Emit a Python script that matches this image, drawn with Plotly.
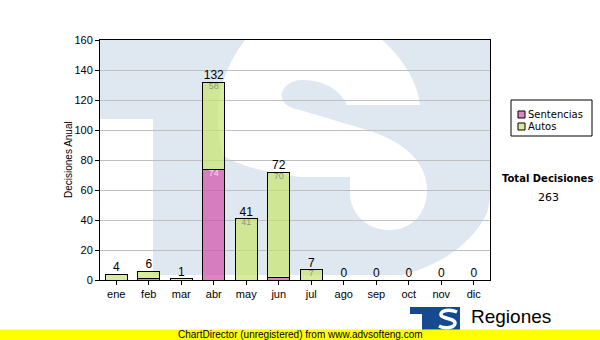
import plotly.graph_objects as go

# ---- data ----
months = ["ene", "feb", "mar", "abr", "may", "jun", "jul", "ago", "sep", "oct", "nov", "dic"]
sentencias = [0, 1, 0, 74, 0, 2, 0, 0, 0, 0, 0, 0]
autos = [4, 5, 1, 58, 41, 70, 7, 0, 0, 0, 0, 0]
series_names = ["Sentencias", "Autos"]
total_title = "Total Decisiones"

totals = [s + a for s, a in zip(sentencias, autos)]
grand_total = sum(totals)

PINK = "rgba(210,80,170,0.7)"
GREEN = "rgba(200,230,110,0.7)"
WM = "#dfe8f1"
FONT = "Liberation Sans"

# pixel -> paper helpers (plot area: x 100..490, y 40..280)
L, R, T, B = 100, 490, 40, 280
def px(x):
    return (x - L) / (R - L)
def py(y):
    return (B - y) / (B - T)
def pt(x, y):
    return f"{px(x):.4f},{py(y):.4f}"
def path(cmds):
    out = []
    for c in cmds:
        if isinstance(c, str):
            out.append(c)
        else:
            out.append(pt(*c))
    return " ".join(out)

fig = go.Figure()

def nz(v):
    return [x if x else None for x in v]

fig.add_trace(go.Bar(x=months, y=nz(sentencias), name=series_names[0], width=0.69,
                     marker=dict(color=PINK, line=dict(color="black", width=1)),
                     hoverinfo="skip"))
fig.add_trace(go.Bar(x=months, y=nz(autos), name=series_names[1], width=0.69,
                     marker=dict(color=GREEN, line=dict(color="black", width=1)),
                     hoverinfo="skip"))

# inner labels
fig.add_trace(go.Scatter(x=months, y=[s + a for s, a in zip(sentencias, autos)],
                         text=[str(a) if a >= 7 else "" for a in autos],
                         mode="text", textposition="bottom center",
                         textfont=dict(family=FONT, size=9, color="rgba(120,120,120,0.75)"),
                         hoverinfo="skip", cliponaxis=False))
fig.add_trace(go.Scatter(x=months, y=sentencias,
                         text=[str(s) if s >= 7 else "" for s in sentencias],
                         mode="text", textposition="bottom center",
                         textfont=dict(family=FONT, size=9, color="rgba(250,225,240,0.95)"),
                         hoverinfo="skip", cliponaxis=False))
# totals
fig.add_trace(go.Scatter(x=months, y=totals, text=[str(t) for t in totals],
                         mode="text", textposition="top center",
                         textfont=dict(family=FONT, size=12, color="black"),
                         hoverinfo="skip", cliponaxis=False))

shapes = []
# watermark
shapes.append(dict(type="rect", xref="paper", yref="paper", x0=0, x1=1, y0=0, y1=1,
                   fillcolor=WM, line=dict(width=0), layer="below"))
shapes.append(dict(type="rect", xref="paper", yref="paper", x0=0, x1=px(153), y0=0, y1=py(119),
                   fillcolor="white", line=dict(width=0), layer="below"))
s_path = path(["M", (223, 155),
               "C", (214, 125), (214, 80), (245, 40),
               "L", (382, 40),
               "C", (405, 60), (418, 85), (420, 105),
               "L", (347, 105),
               "C", (340, 88), (320, 80), (303, 80),
               "C", (288, 80), (280, 90), (282, 98),
               "C", (284, 106), (292, 108), (300, 110),
               "L", (367, 130),
               "C", (400, 140), (427, 160), (427, 190),
               "C", (427, 215), (410, 230), (390, 230),
               "C", (365, 230), (350, 212), (350, 193),
               "L", (350, 177),
               "L", (300, 177),
               "C", (265, 172), (235, 165), (223, 155),
               "Z"])
shapes.append(dict(type="path", xref="paper", yref="paper", path=s_path,
                   fillcolor="white", line=dict(width=0), layer="below"))
c_path = path(["M", (360, 280), "C", (420, 280), (470, 250), (487, 213),
               "L", (490, 200), "L", (490, 280), "Z"])
shapes.append(dict(type="path", xref="paper", yref="paper", path=c_path,
                   fillcolor="white", line=dict(width=0), layer="below"))
shapes.append(dict(type="rect", xref="paper", yref="paper", x0=0, x1=1, y0=0, y1=py(275),
                   fillcolor="white", line=dict(width=0), layer="below"))

# legend box
shapes.append(dict(type="rect", xref="paper", yref="paper", x0=px(511), x1=px(592),
                   y0=py(136), y1=py(100), fillcolor="white", line=dict(color="black", width=1)))
for i, col in enumerate([PINK, GREEN]):
    yy = 111 + 12 * i
    shapes.append(dict(type="rect", xref="paper", yref="paper", x0=px(518), x1=px(525),
                       y0=py(yy + 7), y1=py(yy), fillcolor=col, line=dict(color="black", width=1)))

# yellow bar
shapes.append(dict(type="rect", xref="paper", yref="paper", x0=px(0), x1=px(600),
                   y0=py(340), y1=py(329.5), fillcolor="#ffff00", line=dict(width=0)))
# logo
LOGO = "#154a8e"
shapes.append(dict(type="path", xref="paper", yref="paper",
                   path=path(["M", (410, 307), "L", (437, 307), "L", (437, 314), "L", (436, 314),
                              "L", (436, 329.5), "L", (422, 329.5), "L", (422, 314), "L", (410, 314), "Z"]),
                   fillcolor=LOGO, line=dict(width=0)))
shapes.append(dict(type="rect", xref="paper", yref="paper", x0=px(436), x1=px(460),
                   y0=py(329.5), y1=py(307), fillcolor=LOGO, line=dict(width=0)))
shapes.append(dict(type="path", xref="paper", yref="paper",
                   path=path(["M", (457, 312), "C", (450, 309), (440, 310), (441, 315),
                              "C", (442, 319), (455, 318), (455, 323),
                              "C", (455, 328), (445, 329), (439, 326)]),
                   line=dict(color="white", width=3.5)))

def ann(text, x, y, size, family=FONT, xanchor="center", **kw):
    return dict(text=text, x=px(x), y=py(y), xref="paper", yref="paper",
                xanchor=xanchor, yanchor="middle", showarrow=False,
                font=dict(family=family, size=size, color="black"), **kw)

annotations = [
    ann("Decisiones Anual", 68, 160, 10, textangle=-90),
    ann(f"<b>{total_title}</b>", 547, 178, 10, family="DejaVu Sans"),
    ann(str(grand_total), 548.5, 197, 11, family="DejaVu Sans"),
    ann("ChartDirector (unregistered) from www.advsofteng.com", 300, 334.5, 10),
    ann("Regiones", 469, 316, 19, xanchor="left"),
]
for i, nm in enumerate(series_names):
    annotations.append(ann(nm, 526, 114.5 + 12 * i, 10, family="DejaVu Sans", xanchor="left"))

fig.update_layout(
    width=600, height=340,
    margin=dict(l=L, r=600 - R, t=T, b=340 - B),
    paper_bgcolor="white", plot_bgcolor="white",
    barmode="stack", showlegend=False,
    shapes=shapes, annotations=annotations,
    font=dict(family=FONT, size=11, color="black"),
    xaxis=dict(type="category", range=[-0.5, 11.5], showline=True, linecolor="black",
               linewidth=1, mirror=True, ticks="outside", ticklen=4, tickcolor="black",
               showgrid=False, tickfont=dict(family=FONT, size=11, color="black"), fixedrange=True),
    yaxis=dict(range=[0, 160], dtick=20, showgrid=True, gridcolor="#c0c0c0", gridwidth=1,
               showline=True, linecolor="black", linewidth=1, mirror=True, ticks="outside",
               ticklen=4, tickcolor="black", zeroline=False,
               tickfont=dict(family=FONT, size=11, color="black"), fixedrange=True),
)

fig.write_html("out.html", config={"displayModeBar": False})
